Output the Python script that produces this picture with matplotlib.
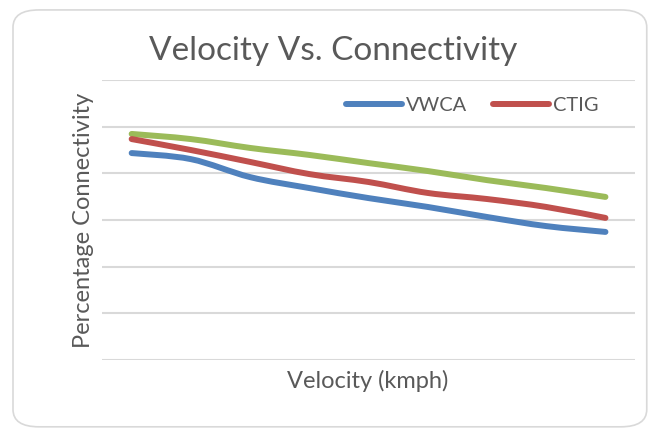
import matplotlib
matplotlib.use("Agg")
import matplotlib.pyplot as plt
from matplotlib.lines import Line2D
from matplotlib.patches import FancyBboxPatch, PathPatch
from matplotlib.path import Path

# values (no tick labels shown, y scale assumed 0-120)
categories = [1, 2, 3, 4, 5, 6, 7, 8, 9]
vwca = [88.7, 86.1, 78.4, 73.7, 69.4, 65.6, 61.3, 57.4, 54.9]
ctig = [94.7, 90.0, 84.9, 79.7, 76.3, 71.6, 69.0, 65.6, 60.9]
third = [96.9, 94.7, 90.9, 87.9, 84.4, 81.0, 77.1, 73.7, 69.9]

GREY = "#595959"
plt.rcParams["font.family"] = ["Lato", "DejaVu Sans"]


def smooth_path(xs, ys):
    """Bezier path through the points, like Excel's smoothed line"""
    pts = list(zip(xs, ys))
    verts = [pts[0]]
    codes = [Path.MOVETO]
    n = len(pts)
    for i in range(n - 1):
        p0 = pts[max(i - 1, 0)]
        p1 = pts[i]
        p2 = pts[i + 1]
        p3 = pts[min(i + 2, n - 1)]
        c1 = (p1[0] + (p2[0] - p0[0]) / 6, p1[1] + (p2[1] - p0[1]) / 6)
        c2 = (p2[0] - (p3[0] - p1[0]) / 6, p2[1] - (p3[1] - p1[1]) / 6)
        verts += [c1, c2, p2]
        codes += [Path.CURVE4] * 3
    return Path(verts, codes)


fig = plt.figure(figsize=(6.5, 4.32), dpi=100)
fig.patches.append(FancyBboxPatch((0.02, 0.012), 0.975, 0.965, boxstyle="round,pad=0,rounding_size=0.04",
                                  transform=fig.transFigure, fc="white", ec="#d9d9d9", lw=1.2,
                                  zorder=-1))
ax = fig.add_axes([0.157, 0.1667, 0.82, 0.648])
ax.set_facecolor("none")

series = [(vwca, "#4f81bd", "VWCA"), (ctig, "#c0504d", "CTIG"), (third, "#9bbb59", None)]
for vals, col, name in series[::-1]:
    ax.add_patch(PathPatch(smooth_path(categories, vals), fill=False, ec=col, lw=4.3,
                           capstyle="round", joinstyle="round"))

ax.set_xlim(0.5, len(categories) + 0.5)
ax.set_ylim(0, 120)
ax.set_yticks(range(0, 121, 20))
ax.set_xticks([])
ax.tick_params(left=False, labelleft=False)
ax.yaxis.grid(True, color="#d9d9d9", lw=1.5)
ax.set_axisbelow(True)
for s in ax.spines.values():
    s.set_visible(False)

fig.text(0.512, 0.882, "Velocity Vs. Connectivity", ha="center", va="center", fontsize=24, color=GREY)
fig.text(0.566, 0.118, "Velocity (kmph)", ha="center", va="center", fontsize=17, color=GREY)
fig.text(0.129, 0.491, "Percentage Connectivity", ha="center", va="center", rotation=90,
         fontsize=17, color=GREY)

handles = [Line2D([], [], color=c, lw=4.3, solid_capstyle="round") for _, c, n in series if n]
ax.legend(handles, ["VWCA", "CTIG"], loc="upper right", bbox_to_anchor=(0.965, 1.005), ncol=2,
          frameon=False, fontsize=14.4, handlelength=2.8, columnspacing=1.3, handletextpad=0.2,
          labelcolor=GREY)

fig.savefig("out.png", dpi=100)
